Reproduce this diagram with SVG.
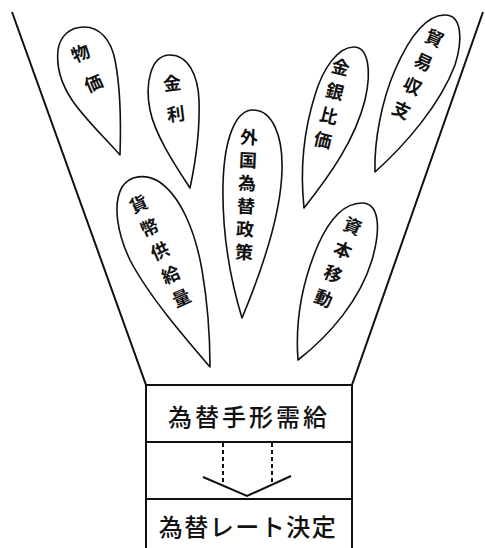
<svg xmlns="http://www.w3.org/2000/svg" width="485" height="548" viewBox="0 0 485 548">
<style>
.drop{fill:#fff;stroke:#111;stroke-width:1.6;stroke-linejoin:round}
.edge{fill:none;stroke:#111;stroke-width:2}
.lbl{font-family:"Noto Sans CJK JP","Noto Sans",sans-serif;font-size:18px;font-weight:700;fill:#111;text-anchor:middle;dominant-baseline:central}
.big{font-family:"Noto Sans CJK JP","Noto Sans",sans-serif;font-size:24px;font-weight:500;fill:#111;text-anchor:middle;dominant-baseline:central}
</style>
<rect width="485" height="548" fill="#fff"/>
<g id="funnel">
<path class="edge" d="M12,12 L146,385 L146,548 M483,12 L352,385 L352,548 M146,385 L352,385 M146,442 L352,442 M146,499 L352,499"/>
</g>
<g id="bukka">
<path class="drop" d="M120,155 C105,138 84,118 72,100 C62,85 56,68 58,50 C60,36 70,27 84,27 C100,27 111,40 115,60 C120,85 121,125 120,155 Z"/>
<g transform="translate(80,52) rotate(-23.4)"><text class="lbl" x="0" y="0">物</text><text class="lbl" x="0" y="32.7">価</text></g>
</g>
<g id="kinri">
<path class="drop" d="M190,188 C175,165 155,135 150,110 C145,85 150,55 170,55 C188,55 198,75 199,100 C200,130 196,160 190,188 Z"/>
<g transform="translate(172,82) rotate(-7)"><text class="lbl" x="0" y="0">金</text><text class="lbl" x="0" y="31">利</text></g>
</g>
<g id="gaikoku">
<path class="drop" d="M242,318 C232,285 222,240 223,185 C224,140 235,110 253,110 C272,110 283,135 282,170 C281,215 262,270 242,318 Z"/>
<g transform="translate(249,136) rotate(2.5)"><text class="lbl" x="0" y="0">外</text><text class="lbl" x="0" y="23">国</text><text class="lbl" x="0" y="46">為</text><text class="lbl" x="0" y="69">替</text><text class="lbl" x="0" y="92">政</text><text class="lbl" x="0" y="115">策</text></g>
</g>
<g id="kahei">
<path class="drop" d="M210,367 C185,338 148,295 130,260 C118,235 112,205 122,187 C130,175 145,174 158,181 C180,195 195,230 202,270 C208,305 210,340 210,367 Z"/>
<g transform="translate(138,203) rotate(-24.6)"><text class="lbl" x="0" y="0">貨</text><text class="lbl" x="0" y="25.8">幣</text><text class="lbl" x="0" y="51.6">供</text><text class="lbl" x="0" y="77.4">給</text><text class="lbl" x="0" y="103.2">量</text></g>
</g>
<g id="kingin">
<path class="drop" d="M304,208 C300,170 304,130 315,95 C323,68 338,47 354,47 C368,47 372,70 365,100 C355,140 330,175 304,208 Z"/>
<g transform="translate(341,66) rotate(13.8)"><text class="lbl" x="0" y="0">金</text><text class="lbl" x="0" y="25">銀</text><text class="lbl" x="0" y="50">比</text><text class="lbl" x="0" y="75">価</text></g>
</g>
<g id="boeki">
<path class="drop" d="M375,172 C374,140 382,100 395,70 C408,40 425,15 445,15 C462,15 463,40 455,65 C440,105 405,145 375,172 Z"/>
<g transform="translate(435,37) rotate(24.6)"><text class="lbl" x="0" y="0">貿</text><text class="lbl" x="0" y="26.4">易</text><text class="lbl" x="0" y="52.8">収</text><text class="lbl" x="0" y="79.2">支</text></g>
</g>
<g id="shihon">
<path class="drop" d="M298,360 C295,320 303,280 318,245 C330,218 345,203 362,203 C378,203 382,225 372,260 C360,300 330,335 298,360 Z"/>
<g transform="translate(353,225) rotate(21.9)"><text class="lbl" x="0" y="0">資</text><text class="lbl" x="0" y="25.9">本</text><text class="lbl" x="0" y="51.8">移</text><text class="lbl" x="0" y="77.7">動</text></g>
</g>
<g id="juyo">
<text class="big" x="249" y="415" letter-spacing="3">為替手形需給</text>
</g>
<g id="rate">
<text class="big" x="248" y="525" letter-spacing="1.5">為替レート決定</text>
</g>
<g id="connectors">
<path class="edge" d="M223,443 L223,484 M272,443 L272,484" stroke-dasharray="4,3" stroke-width="2.2"/>
<path class="edge" d="M203,477 L247,496 L291,476" stroke-width="2.5"/>
</g>
</svg>
